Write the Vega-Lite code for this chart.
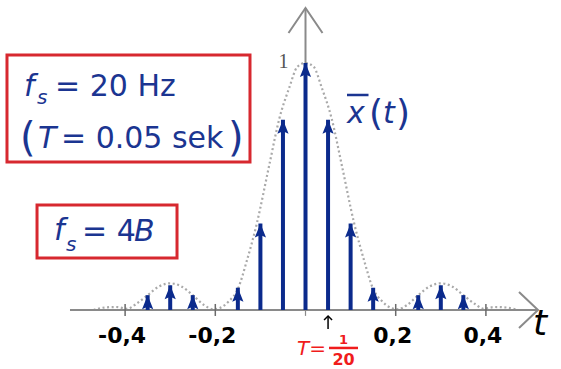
{
  "$schema": "https://vega.github.io/schema/vega-lite/v6.json",
  "width": 561,
  "height": 369,
  "padding": 0,
  "autosize": {"type": "none"},
  "background": "white",
  "config": {"view": {"stroke": null}, "font": "DejaVu Sans", "text": {"font": "DejaVu Sans"}},
  "datasets": {
    "stems": [
      {"t": -0.35, "v": 0.06}, {"t": -0.3, "v": 0.10}, {"t": -0.25, "v": 0.06},
      {"t": -0.15, "v": 0.09}, {"t": -0.1, "v": 0.35}, {"t": -0.05, "v": 0.77},
      {"t": 0, "v": 1.0},
      {"t": 0.05, "v": 0.77}, {"t": 0.1, "v": 0.35}, {"t": 0.15, "v": 0.09},
      {"t": 0.25, "v": 0.06}, {"t": 0.3, "v": 0.10}, {"t": 0.35, "v": 0.06}
    ],
    "curve": [
      {"t": -0.47, "v": 0.0}, {"t": -0.445, "v": 0.01}, {"t": -0.42, "v": 0.012}, {"t": -0.395, "v": 0.005},
      {"t": -0.375, "v": 0.025}, {"t": -0.35, "v": 0.06}, {"t": -0.325, "v": 0.095}, {"t": -0.3, "v": 0.108},
      {"t": -0.275, "v": 0.095}, {"t": -0.25, "v": 0.06}, {"t": -0.225, "v": 0.02}, {"t": -0.205, "v": 0.003},
      {"t": -0.19, "v": 0.008}, {"t": -0.17, "v": 0.035}, {"t": -0.15, "v": 0.085}, {"t": -0.13, "v": 0.2},
      {"t": -0.108, "v": 0.35}, {"t": -0.08, "v": 0.59}, {"t": -0.058, "v": 0.775}, {"t": -0.036, "v": 0.9},
      {"t": -0.018, "v": 0.985}, {"t": 0, "v": 1.0},
      {"t": 0.018, "v": 0.985}, {"t": 0.036, "v": 0.9}, {"t": 0.058, "v": 0.775}, {"t": 0.08, "v": 0.59},
      {"t": 0.108, "v": 0.35}, {"t": 0.13, "v": 0.2}, {"t": 0.15, "v": 0.085}, {"t": 0.17, "v": 0.035},
      {"t": 0.19, "v": 0.008}, {"t": 0.205, "v": 0.003}, {"t": 0.225, "v": 0.02}, {"t": 0.25, "v": 0.06},
      {"t": 0.275, "v": 0.095}, {"t": 0.3, "v": 0.108}, {"t": 0.325, "v": 0.095}, {"t": 0.35, "v": 0.06},
      {"t": 0.375, "v": 0.025}, {"t": 0.395, "v": 0.005}, {"t": 0.42, "v": 0.012}, {"t": 0.445, "v": 0.01},
      {"t": 0.47, "v": 0.0}
    ],
    "ticks": [
      {"t": -0.4, "label": "-0,4"}, {"t": -0.2, "label": "-0,2"},
      {"t": 0.2, "label": "0,2"}, {"t": 0.4, "label": "0,4"}
    ],
    "one": [{}]
  },
  "layer": [
    {
      "data": {"name": "curve"},
      "mark": {"type": "line", "interpolate": "monotone", "stroke": "#a9a9a9", "strokeWidth": 2.2, "strokeDash": [2, 2.6]},
      "encoding": {
        "x": {"field": "t", "type": "quantitative", "axis": null, "scale": {"domain": [-0.6774, 0.5665], "nice": false, "zero": false}},
        "y": {"field": "v", "type": "quantitative", "axis": null, "scale": {"domain": [-0.239, 1.255], "nice": false, "zero": false}}
      }
    },
    {
      "data": {"name": "one"},
      "mark": {"type": "rule", "stroke": "#8a8a8a", "strokeWidth": 2},
      "encoding": {
        "x": {"datum": -0.5222, "type": "quantitative"},
        "x2": {"datum": 0.5155},
        "y": {"datum": 0, "type": "quantitative"}
      }
    },
    {
      "data": {"name": "one"},
      "mark": {"type": "rule", "stroke": "#8a8a8a", "strokeWidth": 2},
      "encoding": {
        "x": {"datum": 0, "type": "quantitative"},
        "y": {"datum": 0, "type": "quantitative"},
        "y2": {"datum": 1.2227}
      }
    },
    {
      "data": {"name": "one"},
      "mark": {"type": "point", "shape": "M-1,-0.95L0,0L-1,0.95", "size": 1444, "filled": false, "stroke": "#8a8a8a", "strokeWidth": 2, "opacity": 1},
      "encoding": {
        "x": {"datum": 0.5155, "type": "quantitative"},
        "y": {"datum": 0, "type": "quantitative"}
      }
    },
    {
      "data": {"name": "one"},
      "mark": {"type": "point", "shape": "M-0.68,1L0,0L0.68,1", "size": 2500, "filled": false, "stroke": "#8a8a8a", "strokeWidth": 2, "opacity": 1},
      "encoding": {
        "x": {"datum": 0, "type": "quantitative"},
        "y": {"datum": 1.2227, "type": "quantitative"}
      }
    },
    {
      "data": {"name": "ticks"},
      "mark": {"type": "rule", "stroke": "#6a6a6a", "strokeWidth": 1.5},
      "encoding": {
        "x": {"field": "t", "type": "quantitative"},
        "y": {"datum": 0.0243, "type": "quantitative"},
        "y2": {"datum": -0.0243}
      }
    },
    {
      "data": {"name": "one"},
      "mark": {"type": "rule", "stroke": "#8a8a8a", "strokeWidth": 1.2},
      "encoding": {
        "x": {"datum": 0, "type": "quantitative"},
        "y": {"datum": 0, "type": "quantitative"},
        "y2": {"datum": -0.024}
      }
    },
    {
      "data": {"name": "ticks"},
      "mark": {"type": "text", "align": "center", "baseline": "alphabetic", "fontSize": 22, "fontWeight": "bold", "color": "#000000", "dx": -3},
      "encoding": {
        "x": {"field": "t", "type": "quantitative"},
        "y": {"datum": -0.1336, "type": "quantitative"},
        "text": {"field": "label"}
      }
    },
    {
      "data": {"name": "stems"},
      "mark": {"type": "rule", "stroke": "#0b2a8c", "strokeWidth": 4},
      "encoding": {
        "x": {"field": "t", "type": "quantitative"},
        "y": {"field": "v", "type": "quantitative"},
        "y2": {"datum": 0}
      }
    },
    {
      "data": {"name": "stems"},
      "mark": {"type": "point", "shape": "M0,0L0.8,2L0,1.65L-0.8,2Z", "size": 196, "filled": true, "color": "#0b2a8c", "opacity": 1, "strokeWidth": 0},
      "encoding": {
        "x": {"field": "t", "type": "quantitative"},
        "y": {"field": "v", "type": "quantitative"}
      }
    },
    {
      "data": {"name": "one"},
      "mark": {"type": "rect", "fill": "transparent", "stroke": "#d7282f", "strokeWidth": 3},
      "encoding": {
        "x": {"datum": -0.6619, "type": "quantitative"},
        "x2": {"datum": -0.1231},
        "y": {"datum": 1.0324, "type": "quantitative"},
        "y2": {"datum": 0.5992}
      }
    },
    {
      "data": {"name": "one"},
      "mark": {"type": "rect", "fill": "transparent", "stroke": "#d7282f", "strokeWidth": 3},
      "encoding": {
        "x": {"datum": -0.5953, "type": "quantitative"},
        "x2": {"datum": -0.2849},
        "y": {"datum": 0.4251, "type": "quantitative"},
        "y2": {"datum": 0.2105}
      }
    },
    {
      "data": {"name": "one"},
      "mark": {"type": "text", "text": "f", "align": "left", "baseline": "alphabetic", "fontSize": 30, "fontStyle": "italic", "color": "#1b3591"},
      "encoding": {"x": {"datum": -0.6242, "type": "quantitative"}, "y": {"datum": 0.8664, "type": "quantitative"}}
    },
    {
      "data": {"name": "one"},
      "mark": {"type": "text", "text": "s", "align": "left", "baseline": "alphabetic", "fontSize": 20, "fontStyle": "italic", "color": "#1b3591"},
      "encoding": {"x": {"datum": -0.5953, "type": "quantitative"}, "y": {"datum": 0.834, "type": "quantitative"}}
    },
    {
      "data": {"name": "one"},
      "mark": {"type": "text", "text": "= 20 Hz", "align": "left", "baseline": "alphabetic", "fontSize": 30, "color": "#1b3591"},
      "encoding": {"x": {"datum": -0.5554, "type": "quantitative"}, "y": {"datum": 0.8664, "type": "quantitative"}}
    },
    {
      "data": {"name": "one"},
      "mark": {"type": "text", "text": "(", "align": "left", "baseline": "alphabetic", "fontSize": 40, "color": "#1b3591"},
      "encoding": {"x": {"datum": -0.6330, "type": "quantitative"}, "y": {"datum": 0.6437, "type": "quantitative"}}
    },
    {
      "data": {"name": "one"},
      "mark": {"type": "text", "text": "T", "align": "left", "baseline": "alphabetic", "fontSize": 30, "fontStyle": "italic", "color": "#1b3591"},
      "encoding": {"x": {"datum": -0.5931, "type": "quantitative"}, "y": {"datum": 0.6559, "type": "quantitative"}}
    },
    {
      "data": {"name": "one"},
      "mark": {"type": "text", "text": "= 0.05 sek", "align": "left", "baseline": "alphabetic", "fontSize": 30, "color": "#1b3591"},
      "encoding": {"x": {"datum": -0.5422, "type": "quantitative"}, "y": {"datum": 0.6559, "type": "quantitative"}}
    },
    {
      "data": {"name": "one"},
      "mark": {"type": "text", "text": ")", "align": "left", "baseline": "alphabetic", "fontSize": 40, "color": "#1b3591"},
      "encoding": {"x": {"datum": -0.1718, "type": "quantitative"}, "y": {"datum": 0.6437, "type": "quantitative"}}
    },
    {
      "data": {"name": "one"},
      "mark": {"type": "text", "text": "f", "align": "left", "baseline": "alphabetic", "fontSize": 30, "fontStyle": "italic", "color": "#1b3591"},
      "encoding": {"x": {"datum": -0.5576, "type": "quantitative"}, "y": {"datum": 0.2834, "type": "quantitative"}}
    },
    {
      "data": {"name": "one"},
      "mark": {"type": "text", "text": "s", "align": "left", "baseline": "alphabetic", "fontSize": 20, "fontStyle": "italic", "color": "#1b3591"},
      "encoding": {"x": {"datum": -0.531, "type": "quantitative"}, "y": {"datum": 0.2389, "type": "quantitative"}}
    },
    {
      "data": {"name": "one"},
      "mark": {"type": "text", "text": "= 4", "align": "left", "baseline": "alphabetic", "fontSize": 30, "color": "#1b3591"},
      "encoding": {"x": {"datum": -0.4956, "type": "quantitative"}, "y": {"datum": 0.2794, "type": "quantitative"}}
    },
    {
      "data": {"name": "one"},
      "mark": {"type": "text", "text": "B", "align": "left", "baseline": "alphabetic", "fontSize": 30, "fontStyle": "italic", "color": "#1b3591"},
      "encoding": {"x": {"datum": -0.3803, "type": "quantitative"}, "y": {"datum": 0.2794, "type": "quantitative"}}
    },
    {
      "data": {"name": "one"},
      "mark": {"type": "text", "text": "1", "align": "center", "baseline": "alphabetic", "fontSize": 20, "font": "Liberation Serif", "color": "#555555"},
      "encoding": {"x": {"datum": -0.0488, "type": "quantitative"}, "y": {"datum": 0.9798, "type": "quantitative"}}
    },
    {
      "data": {"name": "one"},
      "mark": {"type": "text", "text": "x", "align": "left", "baseline": "alphabetic", "fontSize": 30, "fontStyle": "italic", "color": "#1b3591"},
      "encoding": {"x": {"datum": 0.092, "type": "quantitative"}, "y": {"datum": 0.7571, "type": "quantitative"}}
    },
    {
      "data": {"name": "one"},
      "mark": {"type": "rule", "stroke": "#1b3591", "strokeWidth": 2.5},
      "encoding": {"x": {"datum": 0.092, "type": "quantitative"}, "x2": {"datum": 0.1397}, "y": {"datum": 0.8704, "type": "quantitative"}}
    },
    {
      "data": {"name": "one"},
      "mark": {"type": "text", "text": "(", "align": "left", "baseline": "alphabetic", "fontSize": 36, "color": "#1b3591"},
      "encoding": {"x": {"datum": 0.1408, "type": "quantitative"}, "y": {"datum": 0.749, "type": "quantitative"}}
    },
    {
      "data": {"name": "one"},
      "mark": {"type": "text", "text": "t", "align": "left", "baseline": "alphabetic", "fontSize": 30, "fontStyle": "italic", "color": "#1b3591"},
      "encoding": {"x": {"datum": 0.1718, "type": "quantitative"}, "y": {"datum": 0.7571, "type": "quantitative"}}
    },
    {
      "data": {"name": "one"},
      "mark": {"type": "text", "text": ")", "align": "left", "baseline": "alphabetic", "fontSize": 36, "color": "#1b3591"},
      "encoding": {"x": {"datum": 0.2007, "type": "quantitative"}, "y": {"datum": 0.749, "type": "quantitative"}}
    },
    {
      "data": {"name": "one"},
      "mark": {"type": "text", "text": "T=", "align": "left", "baseline": "alphabetic", "fontSize": 20, "fontStyle": "italic", "color": "#f01c1c"},
      "encoding": {"x": {"datum": -0.0188, "type": "quantitative"}, "y": {"datum": -0.1822, "type": "quantitative"}}
    },
    {
      "data": {"name": "one"},
      "mark": {"type": "text", "text": "1", "align": "center", "baseline": "alphabetic", "fontSize": 13, "fontWeight": "bold", "color": "#f01c1c"},
      "encoding": {"x": {"datum": 0.0843, "type": "quantitative"}, "y": {"datum": -0.1377, "type": "quantitative"}}
    },
    {
      "data": {"name": "one"},
      "mark": {"type": "rule", "stroke": "#f01c1c", "strokeWidth": 2.5},
      "encoding": {"x": {"datum": 0.0521, "type": "quantitative"}, "x2": {"datum": 0.1164}, "y": {"datum": -0.1538, "type": "quantitative"}}
    },
    {
      "data": {"name": "one"},
      "mark": {"type": "text", "text": "20", "align": "center", "baseline": "alphabetic", "fontSize": 16, "fontWeight": "bold", "color": "#f01c1c"},
      "encoding": {"x": {"datum": 0.0843, "type": "quantitative"}, "y": {"datum": -0.2227, "type": "quantitative"}}
    },
    {
      "data": {"name": "one"},
      "mark": {"type": "rule", "stroke": "#000000", "strokeWidth": 1.5},
      "encoding": {"x": {"datum": 0.05, "type": "quantitative"}, "y": {"datum": -0.0243, "type": "quantitative"}, "y2": {"datum": -0.0769}}
    },
    {
      "data": {"name": "one"},
      "mark": {"type": "point", "shape": "M-1,1L0,0L1,1", "size": 64, "filled": false, "stroke": "#000000", "strokeWidth": 1.5, "opacity": 1},
      "encoding": {"x": {"datum": 0.05, "type": "quantitative"}, "y": {"datum": -0.0243, "type": "quantitative"}}
    },
    {
      "data": {"name": "one"},
      "mark": {"type": "text", "text": "t", "align": "left", "baseline": "alphabetic", "fontSize": 36, "fontStyle": "italic", "color": "#000000"},
      "encoding": {"x": {"datum": 0.5044, "type": "quantitative"}, "y": {"datum": -0.1012, "type": "quantitative"}}
    }
  ]
}
